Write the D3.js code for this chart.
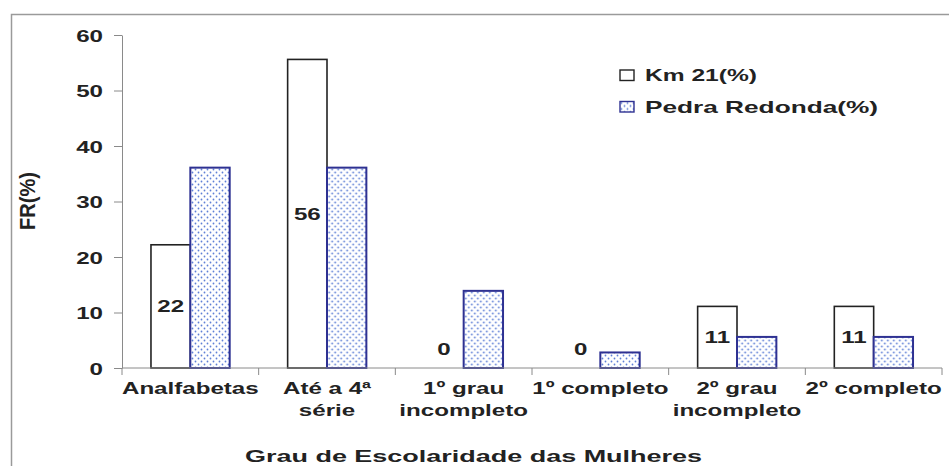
<!DOCTYPE html>
<html lang="pt">
  <head>
    <meta charset="UTF-8" />
    <script src="https://d3js.org/d3.v7.min.js"></script>
    <title>Grau de Escolaridade das Mulheres</title>
    <style>
      body {
        margin: 0;
        background: #fff;
      }
      text {
        font-family: "Liberation Sans", Arial, sans-serif;
        font-weight: bold;
        fill: #222;
      }
      .axis path,
      .axis line {
        stroke: #8a8a8a;
      }
    </style>
  </head>
  <body>
    <svg id="chart" width="949" height="466"></svg>

    <script>
      // Data
      const categories = [
        "Analfabetas",
        "Até a 4ª\nsérie",
        "1º grau\nincompleto",
        "1º completo",
        "2º grau\nincompleto",
        "2º completo",
      ];
      const series = ["Km 21(%)", "Pedra Redonda(%)"];
      const km21 = [22.2, 55.6, 0, 0, 11.1, 11.1];
      const pedraRedonda = [36.1, 36.1, 13.9, 2.8, 5.6, 5.6];
      const km21Labels = ["22", "56", "0", "0", "11", "11"];
      const yTicks = [0, 10, 20, 30, 40, 50, 60];

      const rows = categories.map((c, i) => ({
        cat: c,
        values: [
          { key: series[0], v: km21[i] },
          { key: series[1], v: pedraRedonda[i] },
        ],
        label: km21Labels[i],
      }));

      const sx = 1.42; // the original text is stretched horizontally
      const svg = d3.select("#chart");

      // dotted fill
      const pat = svg
        .append("defs")
        .append("pattern")
        .attr("id", "dots")
        .attr("patternUnits", "userSpaceOnUse")
        .attr("width", 6)
        .attr("height", 6);
      pat.append("rect").attr("width", 6).attr("height", 6).attr("fill", "#fff");
      pat.append("circle").attr("cx", 1.5).attr("cy", 1.5).attr("r", 0.9).attr("fill", "#5f80d6");
      pat.append("circle").attr("cx", 4.5).attr("cy", 4.5).attr("r", 0.9).attr("fill", "#5f80d6");

      // outer frame
      svg
        .append("rect")
        .attr("x", 11.5)
        .attr("y", 14.5)
        .attr("width", 980)
        .attr("height", 520)
        .attr("fill", "none")
        .attr("stroke", "#9a9a9a")
        .attr("stroke-width", 1.5);

      // scales
      const x0 = d3.scaleBand().domain(categories).range([122, 942]);
      const bw = x0.bandwidth();
      const x1 = d3
        .scaleBand()
        .domain(series)
        .range([bw * 0.212, bw * 0.788]);
      const y = d3.scaleLinear().domain([0, 60]).range([368, 35]);

      // y axis
      const yAxis = svg
        .append("g")
        .attr("class", "axis")
        .attr("transform", "translate(122,0)")
        .call(d3.axisLeft(y).tickValues(yTicks).tickSize(8).tickSizeOuter(0));
      yAxis.select(".domain").attr("stroke", "#8a8a8a");
      yAxis
        .selectAll("text")
        .attr("x", 0)
        .attr("dy", null)
        .attr("y", 6)
        .attr("transform", `translate(-19,0) scale(${sx},1)`)
        .style("font-size", "17px")
        .style("font-family", null)
        .attr("fill", "#222");

      // bars
      const groups = svg
        .selectAll(".grp")
        .data(rows)
        .enter()
        .append("g")
        .attr("class", "grp")
        .attr("transform", (d) => `translate(${x0(d.cat)},0)`);

      groups
        .selectAll("rect")
        .data((d) => d.values.filter((v) => v.v > 0))
        .enter()
        .append("rect")
        .attr("x", (d) => x1(d.key))
        .attr("y", (d) => y(d.v))
        .attr("width", x1.bandwidth())
        .attr("height", (d) => y(0) - y(d.v))
        .attr("fill", (d) => (d.key === series[0] ? "#fff" : "url(#dots)"))
        .attr("stroke", (d) => (d.key === series[0] ? "#222" : "#2e3192"))
        .attr("stroke-width", (d) => (d.key === series[0] ? 1.6 : 2));

      // value labels for Km 21
      groups
        .append("text")
        .attr("text-anchor", "middle")
        .attr("transform", (d) => {
          const v = d.values[0].v;
          const cy = v > 0 ? (y(0) + y(v)) / 2 : y(0) - 19;
          return `translate(${x1(series[0]) + x1.bandwidth() / 2},${cy + 6}) scale(${sx},1)`;
        })
        .style("font-size", "17px")
        .text((d) => d.label);

      // x axis
      const xAxis = svg.append("g").attr("class", "axis");
      xAxis
        .append("line")
        .attr("x1", x0.range()[0])
        .attr("x2", x0.range()[1])
        .attr("y1", y(0))
        .attr("y2", y(0));
      xAxis
        .selectAll(".tick")
        .data(categories.map((c) => x0(c)).concat([x0.range()[1]]))
        .enter()
        .append("line")
        .attr("x1", (d) => d)
        .attr("x2", (d) => d)
        .attr("y1", y(0))
        .attr("y2", y(0) + 7);

      const catText = svg
        .selectAll(".cat")
        .data(categories)
        .enter()
        .append("text")
        .attr("class", "cat")
        .attr("text-anchor", "middle")
        .attr("transform", (d) => `translate(${x0(d) + bw / 2},394) scale(${sx},1)`)
        .style("font-size", "17px");
      catText
        .selectAll("tspan")
        .data((d) => d.split("\n"))
        .enter()
        .append("tspan")
        .attr("x", 0)
        .attr("dy", (d, i) => (i === 0 ? 0 : 22))
        .text((d) => d);

      // axis titles
      svg
        .append("text")
        .attr("x", 245)
        .attr("y", 462)
        .attr("textLength", 457)
        .attr("lengthAdjust", "spacingAndGlyphs")
        .style("font-size", "17px")
        .text("Grau de Escolaridade das Mulheres");

      svg
        .append("text")
        .attr("text-anchor", "middle")
        .attr("transform", `translate(35,201) scale(${sx},1) rotate(-90)`)
        .attr("textLength", 58)
        .attr("lengthAdjust", "spacingAndGlyphs")
        .style("font-size", "16px")
        .text("FR(%)");

      // legend
      const legendWidths = [112, 233];
      const legend = svg
        .selectAll(".leg")
        .data(series)
        .enter()
        .append("g")
        .attr("class", "leg")
        .attr("transform", (d, i) => `translate(620,${70 + i * 31.5})`);
      legend
        .append("rect")
        .attr("width", 14)
        .attr("height", 10.5)
        .attr("fill", (d, i) => (i === 0 ? "#fff" : "url(#dots)"))
        .attr("stroke", (d, i) => (i === 0 ? "#222" : "#2e3192"))
        .attr("stroke-width", 1.4);
      legend
        .append("text")
        .attr("x", 25)
        .attr("y", 11)
        .attr("textLength", (d, i) => legendWidths[i])
        .attr("lengthAdjust", "spacingAndGlyphs")
        .style("font-size", "17px")
        .text((d) => d);
    </script>
  </body>
</html>
